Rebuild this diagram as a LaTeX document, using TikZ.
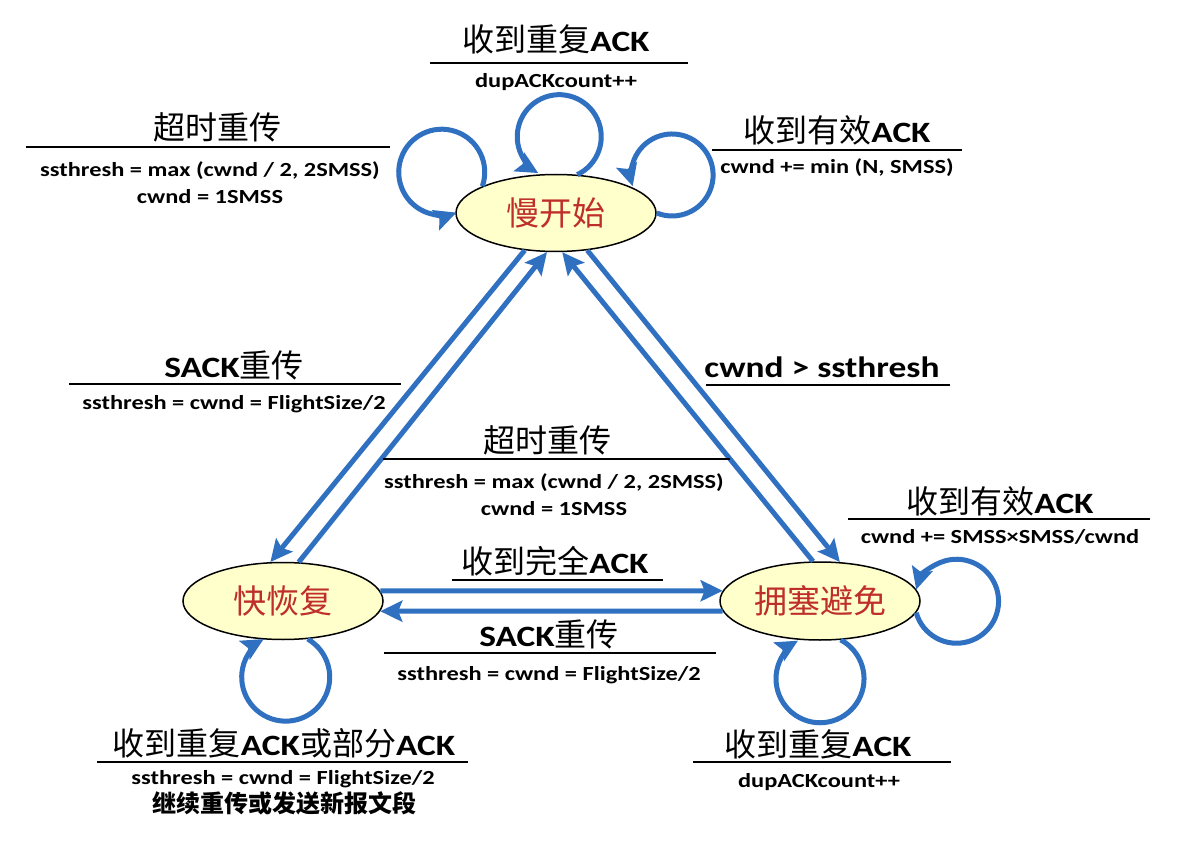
\documentclass[tikz,border=0pt]{standalone}
\usepackage{fontspec}
\usepackage{graphicx}
\setmainfont{Carlito}
\newfontfamily\cjk{Noto Sans CJK SC}
\usetikzlibrary{shapes.geometric,arrows.meta}
\definecolor{stfill}{HTML}{FFFFCC}
\definecolor{stred}{HTML}{BF2F2A}
\definecolor{arrblue}{HTML}{3070C0}
\newcommand\ltit[1]{\scalebox{1.2}[1]{\fontsize{29.5}{32}\selectfont\bfseries #1}}
\newcommand\ctit[1]{{\cjk\fontsize{32}{34}\selectfont #1}}
\newcommand\subl[1]{\scalebox{1.22}[1]{\fontsize{20}{22}\selectfont\bfseries #1}}
\tikzset{
  stnode/.style={ellipse, draw=black, line width=1.5pt, fill=stfill,
    minimum width=200pt, minimum height=77pt, inner sep=0pt, text=stred,
    font=\cjk\fontsize{33}{36}\selectfont},
  arr/.style={draw=arrblue, line width=5pt, -{Stealth[length=22pt,width=21pt,inset=4pt]}},
  ttl/.style={inner sep=0pt, anchor=base},
  sbl/.style={inner sep=0pt, anchor=base},
  rule/.style={line width=1.3pt, black},
}
\begin{document}
\begin{tikzpicture}[x=1pt,y=-1pt]
\useasboundingbox (0,0) rectangle (1186,850);
\fill[white] (0,0) rectangle (1186,850);

% states
\node[stnode] (ss) at (556,213) {慢开始};
\node[stnode] (fr) at (283,601) {快恢复};
\node[stnode, minimum height=78pt] (ca) at (820,601) {拥塞避免};

% transitions between states
\draw[arr] (ss.230) -- (fr.108);
\draw[arr] (fr.68) -- (ss.257);
\draw[arr] (ss.310) -- (ca.63);
\draw[arr] (ca.100) -- (ss.279);
\draw[arr] (fr.6) -- (ca.174);
\draw[arr] (ca.186) -- (fr.354);

% self loops
\draw[arr] (ss.61) arc[start angle=64.6, end angle=-240, radius=42];
\draw[arr] (ss.160) arc[start angle=19, end angle=-290, radius=43];
\draw[arr] (ss.0) arc[start angle=112, end angle=-196, radius=41];
\draw[arr] (fr.303) arc[start angle=-60, end angle=240, radius=44];
\draw[arr] (ca.298) arc[start angle=-62, end angle=240, radius=44];
\draw[arr] (ca.353) arc[start angle=164, end angle=-164, radius=42];

% label 1: top
\node[ttl] (t1) at (556,51.5) {\ctit{收到重复}\ltit{ACK}};
\draw[rule] (430,63) -- (688,63);
\node[sbl] (s1) at (556,88) {\subl{dupACKcount++}};

% label 2: top left
\node[ttl] (t2) at (217,140) {\ctit{超时重传}};
\draw[rule] (26,147) -- (390,147);
\node[sbl] (s2a) at (210,177) {\subl{ssthresh = max (cwnd / 2, 2SMSS)}};
\node[sbl] (s2b) at (210,204) {\subl{cwnd = 1SMSS}};

% label 3: top right
\node[ttl] (t3) at (837,143) {\ctit{收到有效}\ltit{ACK}};
\draw[rule] (712,150) -- (962,150);
\node[sbl] (s3) at (837,174) {\subl{cwnd += min (N, SMSS)}};

% label 4: left middle
\node[ttl] (t4) at (234,377) {\ltit{SACK}\ctit{重传}};
\draw[rule] (69,384) -- (401,384);
\node[sbl] (s4) at (234,409) {\subl{ssthresh = cwnd = FlightSize/2}};

% label 5: right middle
\node[ttl] (t5) at (822,377) {\ltit{cwnd > ssthresh}};
\draw[rule] (706,385) -- (950,385);

% label 6: centre
\node[ttl] (t6) at (547,452) {\ctit{超时重传}};
\draw[rule] (383,459) -- (730,459);
\node[sbl] (s6a) at (554,488) {\subl{ssthresh = max (cwnd / 2, 2SMSS)}};
\node[sbl] (s6b) at (554,515) {\subl{cwnd = 1SMSS}};

% label 7: right
\node[ttl] (t7) at (1000,513) {\ctit{收到有效}\ltit{ACK}};
\draw[rule] (848,519) -- (1150,519);
\node[sbl] (s7) at (1000,543) {\subl{cwnd += SMSS×SMSS/cwnd}};

% label 8: full ACK
\node[ttl] (t8) at (555,573) {\ctit{收到完全}\ltit{ACK}};
\draw[rule] (452,580) -- (663,580);

% label 9: SACK bottom
\node[ttl] (t9) at (549,646.5) {\ltit{SACK}\ctit{重传}};
\draw[rule] (384,653) -- (716,653);
\node[sbl] (s9) at (549,680) {\subl{ssthresh = cwnd = FlightSize/2}};

% label 10: bottom left
\node[ttl] (t10) at (284,755) {\ctit{收到重复}\ltit{ACK}\ctit{或部分}\ltit{ACK}};
\draw[rule] (97,762) -- (468,762);
\node[sbl] (s10a) at (283,784) {\subl{ssthresh = cwnd = FlightSize/2}};
\node[ttl] (s10b) at (284,812) {\cjk\bfseries\fontsize{24}{26}\selectfont 继续重传或发送新报文段};

% label 11: bottom right
\node[ttl] (t11) at (818,756) {\ctit{收到重复}\ltit{ACK}};
\draw[rule] (693,762) -- (951,762);
\node[sbl] (s11) at (819,787) {\subl{dupACKcount++}};
\end{tikzpicture}
\end{document}
